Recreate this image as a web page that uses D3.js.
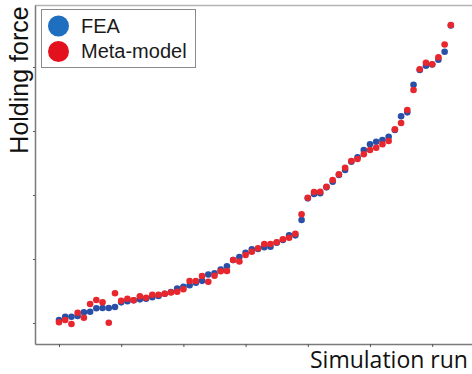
<!DOCTYPE html>
<html>
<head>
<meta charset="utf-8">
<script src="https://cdn.jsdelivr.net/npm/d3@7"></script>
<style>
  body { margin: 0; background: #fff; }
  svg { display: block; }
</style>
</head>
<body>
<div id="chart"></div>
<script>
// simulation run index (0..63)
var runs = d3.range(0, 64);

// holding force, arbitrary units (ticks every 100, no labels)
var fea = [4.7, 9.8, 9.8, 10.9, 16.7, 17.7, 23.0, 23.4, 23.4, 25.0,
  32.3, 33.9, 35.5, 37.0, 38.0, 40.2, 42.2, 45.8, 48.4, 53.9,
  56.7, 58.9, 62.8, 65.9, 75.8, 77.7, 83.4, 88.6, 98.4, 103.1,
  109.8, 115.2, 115.6, 118.3, 119.2, 125.5, 129.7, 137.0, 137.0, 160.9,
  194.8, 201.6, 202.7, 212.0, 220.8, 231.3, 239.1, 252.0, 258.9, 270.3,
  279.2, 283.3, 285.9, 291.1, 301.6, 323.0, 329.2, 372.3, 395.3, 402.0,
  403.9, 411.4, 423.9, 464.8];

var meta = [1.1, 4.7, -1.6, 16.1, 8.3, 29.7, 35.9, 32.3, 0.5, 46.4,
  34.8, 38.0, 35.5, 41.7, 39.5, 44.2, 44.2, 45.8, 47.7, 48.8,
  52.7, 65.6, 65.6, 73.4, 64.5, 73.8, 80.9, 81.3, 98.4, 96.1,
  106.3, 111.4, 116.7, 123.4, 123.4, 126.1, 130.8, 133.3, 139.5, 170.0,
  195.8, 204.7, 205.2, 213.0, 223.4, 232.3, 242.7, 253.1, 256.3, 263.6,
  270.3, 273.9, 279.2, 284.4, 302.8, 312.5, 332.8, 364.1, 396.6, 406.7,
  404.2, 415.2, 435.2, 465.6];

var xTicks = [0, 10, 20, 30, 40, 50, 60];
var yTicks = [0, 100, 200, 300, 400];
var seriesNames = ['FEA', 'Meta-model'];

var width = 472, height = 374;
var margin = { top: 5, left: 35, bottom: 30 };

var svg = d3.select('#chart').append('svg')
  .attr('width', width)
  .attr('height', height);

var x = d3.scaleLinear().domain([-3.86, 66.4]).range([margin.left, width]);
var y = d3.scaleLinear().domain([-32.8, 496.9]).range([height - margin.bottom, margin.top]);

// frame top edge (right side is cut off in the picture)
svg.append('line')
  .attr('x1', margin.left).attr('x2', width)
  .attr('y1', margin.top + 0.5).attr('y2', margin.top + 0.5)
  .attr('stroke', '#b4b4b4').attr('stroke-width', 1.5);

// axes
var xAxis = svg.append('g')
  .attr('transform', `translate(0, ${height - margin.bottom})`)
  .call(d3.axisBottom(x).tickValues(xTicks).tickSize(3).tickSizeOuter(0).tickFormat(''));
var yAxis = svg.append('g')
  .attr('transform', `translate(${margin.left}, 0)`)
  .call(d3.axisLeft(y).tickValues(yTicks).tickSize(2).tickSizeOuter(0).tickFormat(''));

[xAxis, yAxis].forEach(function(a) {
  a.select('.domain').attr('stroke', '#7a7a7a').attr('stroke-width', 1.5);
  a.selectAll('.tick line').attr('stroke', '#555');
});

// soften the dots a little like the scanned figure
var defs = svg.append('defs');
defs.append('filter').attr('id', 'soft')
  .append('feGaussianBlur').attr('stdDeviation', 0.45);

var dots = svg.append('g').attr('filter', 'url(#soft)');

dots.selectAll('.fea')
  .data(runs)
  .enter()
  .append('circle')
  .attr('class', 'fea')
  .attr('cx', d => x(d))
  .attr('cy', d => y(fea[d]))
  .attr('r', 3.3)
  .style('fill', '#2b4fa6');

dots.selectAll('.meta')
  .data(runs)
  .enter()
  .append('circle')
  .attr('class', 'meta')
  .attr('cx', d => x(d))
  .attr('cy', d => y(meta[d]))
  .attr('r', 3.3)
  .style('fill', '#e8252d');

// legend
var legend = svg.append('g');
legend.append('rect')
  .attr('x', 41.5).attr('y', 9.5)
  .attr('width', 154).attr('height', 58)
  .attr('fill', '#fff').attr('stroke', '#8a8a8a').attr('stroke-width', 1);

var legendColors = ['#1f6fc0', '#e3101e'];
seriesNames.forEach(function(name, i) {
  legend.append('circle')
    .attr('cx', 58.5).attr('cy', 26 + i * 25.5)
    .attr('r', 10.5)
    .attr('fill', legendColors[i]);
  legend.append('text')
    .attr('x', 81).attr('y', 32.5 + i * 25)
    .attr('font-family', 'Liberation Sans, Arial, sans-serif')
    .attr('font-size', 20)
    .attr('fill', '#1a1a1a')
    .text(name);
});

// axis titles
svg.append('text')
  .attr('transform', 'translate(28, 80) rotate(-90)')
  .attr('text-anchor', 'middle')
  .attr('font-family', 'Liberation Sans, Arial, sans-serif')
  .attr('font-size', 25)
  .attr('fill', '#111')
  .text('Holding force');

svg.append('text')
  .attr('x', 310).attr('y', 368)
  .attr('font-family', 'Open Sans, sans-serif')
  .attr('font-size', 23)
  .attr('fill', '#111')
  .text('Simulation run');
</script>
</body>
</html>
